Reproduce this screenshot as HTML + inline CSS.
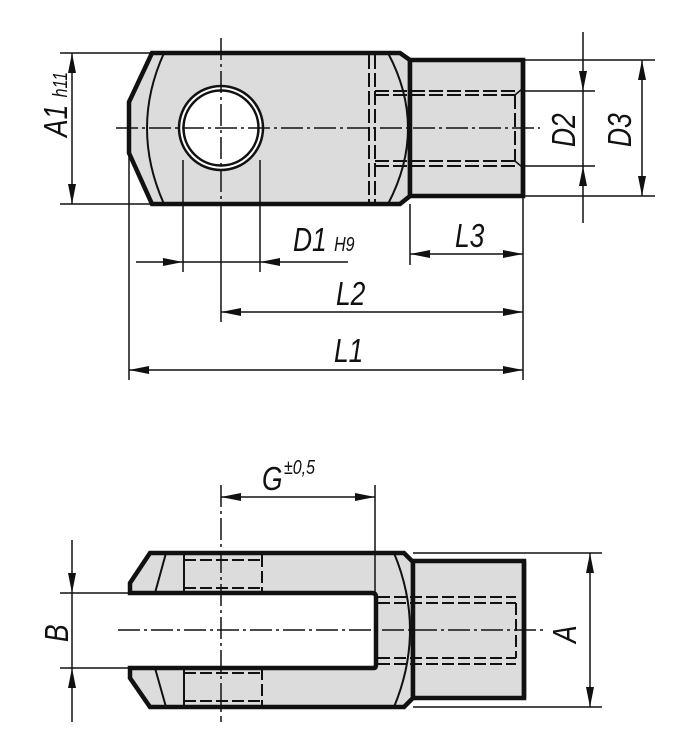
<!DOCTYPE html>
<html><head><style>
html,body{margin:0;padding:0;background:#fff;}
svg{display:block;}
text{font-family:"Liberation Sans",sans-serif;font-style:italic;fill:#111;}
</style></head><body>
<svg width="682" height="750" viewBox="0 0 682 750" xmlns="http://www.w3.org/2000/svg">
<defs>
<marker id="ar" viewBox="0 0 20 8" refX="20" refY="4" markerWidth="20" markerHeight="8" markerUnits="userSpaceOnUse" orient="auto-start-reverse">
<path d="M0,0 L20,4 L0,8 z" fill="#111"/></marker>
</defs>
<g stroke="#111" fill="none">
<path d="M152,53 L400,53 L410,60 L410,196 L400,204 L152,204 L129,153 L129,102 Z" fill="#dcdcdc" stroke-width="4.5"/>
<rect x="410" y="60" width="113" height="136" fill="#dcdcdc" stroke-width="4.5"/>
<line x1="523" y1="60" x2="523" y2="196" stroke-width="4.5"/>
<circle cx="221" cy="128" r="42" fill="#fff" stroke-width="2.5"/>
<circle cx="221" cy="128" r="37.5" stroke-width="2.5"/>
<path d="M164,53 Q130,128 164,204" stroke-width="2"/>
<path d="M388,53 Q428,128 388,204" stroke-width="2"/>
<g stroke-width="2" stroke-dasharray="14,4">
<line x1="369" y1="55" x2="369" y2="202"/>
<line x1="375" y1="55" x2="375" y2="202"/>
<line x1="375" y1="91" x2="515" y2="91"/>
<line x1="375" y1="95" x2="515" y2="95"/>
<line x1="375" y1="161" x2="515" y2="161"/>
<line x1="375" y1="166" x2="515" y2="166"/>
<line x1="515" y1="95" x2="515" y2="161"/>
</g>
<line x1="515" y1="95" x2="522" y2="89" stroke-width="1.5"/>
<line x1="515" y1="161" x2="522" y2="167" stroke-width="1.5"/>
<g stroke-width="1.5" stroke-dasharray="22,4,3,4">
<line x1="116" y1="128" x2="540" y2="128"/>
<line x1="221" y1="38" x2="221" y2="215"/>
</g>
<g stroke-width="1.5">
<line x1="60" y1="53" x2="152" y2="53"/>
<line x1="60" y1="204" x2="152" y2="204"/>
<line x1="525" y1="60" x2="655" y2="60"/>
<line x1="525" y1="196" x2="655" y2="196"/>
<line x1="525" y1="91" x2="595" y2="91"/>
<line x1="525" y1="166" x2="595" y2="166"/>
<line x1="129" y1="153" x2="129" y2="380"/>
<line x1="523" y1="196" x2="523" y2="380"/>
<line x1="183" y1="160" x2="183" y2="272"/>
<line x1="260" y1="160" x2="260" y2="272"/>
<line x1="221" y1="215" x2="221" y2="322"/>
<line x1="410" y1="204" x2="410" y2="265"/>
<line x1="72" y1="53" x2="72" y2="204" marker-start="url(#ar)" marker-end="url(#ar)"/>
<line x1="583" y1="32" x2="583" y2="91" marker-end="url(#ar)"/>
<line x1="583" y1="91" x2="583" y2="166"/>
<line x1="583" y1="223" x2="583" y2="166" marker-end="url(#ar)"/>
<line x1="642" y1="60" x2="642" y2="196" marker-start="url(#ar)" marker-end="url(#ar)"/>
<line x1="136" y1="262" x2="183" y2="262" marker-end="url(#ar)"/>
<line x1="183" y1="262" x2="260" y2="262"/>
<line x1="348" y1="262" x2="260" y2="262" marker-end="url(#ar)"/>
<line x1="410" y1="254" x2="523" y2="254" marker-start="url(#ar)" marker-end="url(#ar)"/>
<line x1="221" y1="312" x2="523" y2="312" marker-start="url(#ar)" marker-end="url(#ar)"/>
<line x1="129" y1="370" x2="523" y2="370" marker-start="url(#ar)" marker-end="url(#ar)"/>
</g>
<path d="M150,553 L404,553 L413,562 L413,698 L404,707 L150,707 L130,678 L130,668 L374,668 Q376,668 376,664 L376,597 Q376,593 372,593 L130,593 L130,583 Z" fill="#dcdcdc" stroke-width="4.5"/>
<rect x="413" y="561" width="111" height="137" fill="#dcdcdc" stroke-width="4.5"/>
<line x1="524" y1="561" x2="524" y2="698" stroke-width="4.5"/>
<path d="M166,553 L155,593 M155,668 L166,707" stroke-width="2"/>
<line x1="184" y1="553" x2="184" y2="593" stroke-width="2"/>
<line x1="184" y1="668" x2="184" y2="707" stroke-width="2"/>
<path d="M394,553 Q426,630 394,707" stroke-width="2"/>
<g stroke-width="2" stroke-dasharray="12,4">
<line x1="184" y1="560" x2="262" y2="560"/>
<line x1="184" y1="588" x2="262" y2="588"/>
<line x1="262" y1="555" x2="262" y2="593"/>
<line x1="184" y1="673" x2="262" y2="673"/>
<line x1="184" y1="701" x2="262" y2="701"/>
<line x1="262" y1="668" x2="262" y2="705"/>
<line x1="378" y1="597" x2="516" y2="597"/>
<line x1="378" y1="603" x2="516" y2="603"/>
<line x1="378" y1="658" x2="516" y2="658"/>
<line x1="378" y1="664" x2="516" y2="664"/>
<line x1="516" y1="603" x2="516" y2="658"/>
</g>
<g stroke-width="1.5" stroke-dasharray="22,4,3,4">
<line x1="118" y1="630" x2="545" y2="630"/>
<line x1="221" y1="485" x2="221" y2="722"/>
</g>
<g stroke-width="1.5">
<line x1="375" y1="485" x2="375" y2="593"/>
<line x1="60" y1="593" x2="130" y2="593"/>
<line x1="60" y1="668" x2="130" y2="668"/>
<line x1="413" y1="553" x2="602" y2="553"/>
<line x1="413" y1="707" x2="602" y2="707"/>
<line x1="221" y1="497" x2="375" y2="497" marker-start="url(#ar)" marker-end="url(#ar)"/>
<line x1="72" y1="540" x2="72" y2="593" marker-end="url(#ar)"/>
<line x1="72" y1="593" x2="72" y2="668"/>
<line x1="72" y1="722" x2="72" y2="668" marker-end="url(#ar)"/>
<line x1="590" y1="553" x2="590" y2="707" marker-start="url(#ar)" marker-end="url(#ar)"/>
</g>
</g>
<text transform="translate(67,137) rotate(-90) scale(0.8,1)" font-size="33">A1 <tspan font-size="20">h11</tspan></text>
<text transform="translate(575,147) rotate(-90) scale(0.8,1)" font-size="33">D2</text>
<text transform="translate(631,147) rotate(-90) scale(0.8,1)" font-size="33">D3</text>
<text transform="translate(293,251) scale(0.8,1)" font-size="33">D1 <tspan font-size="20">H9</tspan></text>
<text transform="translate(455,247) scale(0.8,1)" font-size="33">L3</text>
<text transform="translate(336,305) scale(0.8,1)" font-size="33">L2</text>
<text transform="translate(334,362) scale(0.8,1)" font-size="33">L1</text>
<text transform="translate(262,490) scale(0.8,1)" font-size="33">G</text>
<text transform="translate(284,474) scale(0.8,1)" font-size="20">±0,5</text>
<text transform="translate(68,642) rotate(-90) scale(0.8,1)" font-size="33">B</text>
<text transform="translate(576,643) rotate(-90) scale(0.8,1)" font-size="33">A</text>
</svg>
</body></html>
